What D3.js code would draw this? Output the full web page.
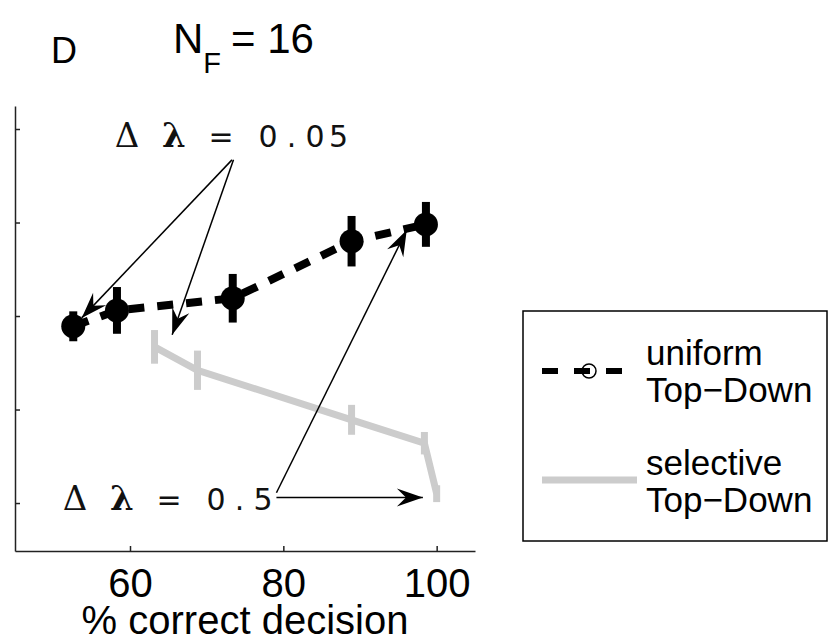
<!DOCTYPE html>
<html>
<head>
<meta charset="utf-8">
<script src="https://cdn.jsdelivr.net/npm/d3@7"></script>
<style>
    body { margin: 0; background: #fff; }
    svg { display: block; }
</style>
</head>
<body>
<div class="chart"></div>
<script>
var width = 836;
var height = 644;

// data
var uniformX = [52.6, 58.3, 73.4, 88.9, 98.6];
var uniformY = [2.89, 3.06, 3.19, 3.80, 3.98];
var uniformErr = [0.16, 0.25, 0.26, 0.27, 0.24];

var selectiveX = [63.2, 68.8, 88.9, 98.4, 100.0];
var selectiveY = [2.67, 2.42, 1.89, 1.64, 1.10];
var selectiveErr = [0.18, 0.21, 0.16, 0.12, 0.09];

var xTicks = [60, 80, 100];
var yTicks = [1, 2, 3, 4, 5];

// annotation arrows, in data units
var arrowFrom = [[73.3, 4.67], [73.5, 4.67], [79.1, 1.11], [79.1, 1.06]];
var arrowTo = [[53.7, 2.98], [65.5, 2.80], [96.1, 3.92], [98.2, 1.06]];

var font = 'Liberation Sans, Arial, Helvetica, sans-serif';

var svg = d3.select('.chart').append('svg')
    .attr('width', width)
    .attr('height', height);

var x = d3.scaleLinear().domain([45, 105]).range([15, 475]);
var y = d3.scaleLinear().domain([0.487, 5.246]).range([551, 106]);

// axes (ticks point inward, no y labels)
var yAxis = svg.append('g')
    .attr('transform', 'translate(' + x.range()[0] + ',0)')
    .call(d3.axisLeft(y).tickValues(yTicks).tickSize(-5).tickSizeOuter(0).tickFormat(''));

var xAxis = svg.append('g')
    .attr('transform', 'translate(0,' + y.range()[0] + ')')
    .call(d3.axisBottom(x).tickValues(xTicks).tickSize(-5).tickSizeOuter(0));

svg.selectAll('.domain, .tick line')
    .attr('stroke', '#222')
    .attr('stroke-width', 1.5);

xAxis.selectAll('text')
    .attr('y', 46)
    .attr('dy', 0)
    .attr('fill', 'black')
    .attr('font-family', font)
    .attr('font-size', 40);

svg.append('text')
    .attr('x', (x.range()[0] + x.range()[1]) / 2)
    .attr('y', 634)
    .attr('text-anchor', 'middle')
    .attr('font-family', font)
    .attr('font-size', 40)
    .text('% correct decision');

// titles
svg.append('text')
    .attr('x', 51).attr('y', 63)
    .attr('font-family', font)
    .attr('font-size', 36)
    .text('D');

var title = svg.append('text')
    .attr('x', 173).attr('y', 53)
    .attr('font-family', font)
    .attr('font-size', 42);
title.append('tspan').text('N');
title.append('tspan').attr('font-size', 29).attr('dy', 20).text('F');
title.append('tspan').attr('dy', -20).attr('dx', 10).text('= 16');

// selective Top-Down (gray)
var selective = selectiveX.map(function (d, i) {
    return {x: d, y: selectiveY[i], e: selectiveErr[i]};
});

svg.append('path')
    .datum(selective)
    .attr('fill', 'none')
    .attr('stroke', '#cccccc')
    .attr('stroke-width', 7)
    .attr('d', d3.line().x(function (d) { return x(d.x); }).y(function (d) { return y(d.y); }));

svg.selectAll('.selErr')
    .data(selective)
    .enter()
    .append('line')
        .attr('class', 'selErr')
        .attr('x1', function (d) { return x(d.x); })
        .attr('x2', function (d) { return x(d.x); })
        .attr('y1', function (d) { return y(d.y - d.e); })
        .attr('y2', function (d) { return y(d.y + d.e); })
        .attr('stroke', '#cccccc')
        .attr('stroke-width', 7);

// uniform Top-Down (black dashed)
var uniform = uniformX.map(function (d, i) {
    return {x: d, y: uniformY[i], e: uniformErr[i]};
});

svg.append('path')
    .datum(uniform)
    .attr('fill', 'none')
    .attr('stroke', 'black')
    .attr('stroke-width', 8)
    .attr('stroke-dasharray', '16,13')
    .attr('d', d3.line().x(function (d) { return x(d.x); }).y(function (d) { return y(d.y); }));

svg.selectAll('.uniErr')
    .data(uniform)
    .enter()
    .append('line')
        .attr('class', 'uniErr')
        .attr('x1', function (d) { return x(d.x); })
        .attr('x2', function (d) { return x(d.x); })
        .attr('y1', function (d) { return y(d.y - d.e); })
        .attr('y2', function (d) { return y(d.y + d.e); })
        .attr('stroke', 'black')
        .attr('stroke-width', 8);

svg.selectAll('.uniDot')
    .data(uniform)
    .enter()
    .append('circle')
        .attr('class', 'uniDot')
        .attr('cx', function (d) { return x(d.x); })
        .attr('cy', function (d) { return y(d.y); })
        .attr('r', 12)
        .attr('fill', 'black');

// annotation text, one glyph per monospace cell
function spacedText(str, x0, baseline) {
    var chars = str.split('');
    var pitch = 23.5;
    chars.forEach(function (c, i) {
        if (c === ' ') { return; }
        var greek = (c === 'Δ' || c === 'λ');
        svg.append('text')
            .attr('x', x0 + i * pitch)
            .attr('y', baseline)
            .attr('text-anchor', 'middle')
            .attr('font-family', greek ? 'DejaVu Serif, Liberation Serif, serif' : 'DejaVu Sans, sans-serif')
            .attr('font-weight', greek && c === 'λ' ? 'bold' : 'normal')
            .attr('font-size', greek ? 34 : 30)
            .attr('fill', '#111')
            .text(c);
    });
}
spacedText('Δ λ = 0.05', 127, 147);
spacedText('Δ λ = 0.5', 75, 510);

// arrows
function arrowHead(x1, y1, x2, y2) {
    var a = Math.atan2(y2 - y1, x2 - x1);
    var L = 26, w = 9;
    var pts = [[0, 0], [-L, -w], [-0.65 * L, 0], [-L, w]].map(function (p) {
        return [x2 + p[0] * Math.cos(a) - p[1] * Math.sin(a),
                y2 + p[0] * Math.sin(a) + p[1] * Math.cos(a)];
    });
    return 'M' + pts.join('L') + 'Z';
}

arrowFrom.forEach(function (f, i) {
    var x1 = x(f[0]), y1 = y(f[1]);
    var x2 = x(arrowTo[i][0]), y2 = y(arrowTo[i][1]);
    svg.append('line')
        .attr('x1', x1).attr('y1', y1)
        .attr('x2', x2).attr('y2', y2)
        .attr('stroke', 'black')
        .attr('stroke-width', 1.5);
    svg.append('path')
        .attr('d', arrowHead(x1, y1, x2, y2))
        .attr('fill', 'black');
});

// legend
var legend = svg.append('g');
legend.append('rect')
    .attr('x', 523).attr('y', 311)
    .attr('width', 304).attr('height', 230)
    .attr('fill', 'white')
    .attr('stroke', 'black')
    .attr('stroke-width', 1.5);

legend.append('line')
    .attr('x1', 542).attr('x2', 622)
    .attr('y1', 371).attr('y2', 371)
    .attr('stroke', 'black')
    .attr('stroke-width', 6)
    .attr('stroke-dasharray', '16,16');
legend.append('circle')
    .attr('cx', 589).attr('cy', 371)
    .attr('r', 7)
    .attr('fill', 'none')
    .attr('stroke', 'black')
    .attr('stroke-width', 1.5);

legend.append('line')
    .attr('x1', 542).attr('x2', 637)
    .attr('y1', 480).attr('y2', 480)
    .attr('stroke', '#cccccc')
    .attr('stroke-width', 7);

var legendText = [['uniform', 365], ['Top\u2212Down', 402], ['selective', 475], ['Top\u2212Down', 512]];
legendText.forEach(function (t) {
    legend.append('text')
        .attr('x', 646).attr('y', t[1])
        .attr('font-family', font)
        .attr('font-size', 35)
        .text(t[0]);
});
</script>
</body>
</html>
